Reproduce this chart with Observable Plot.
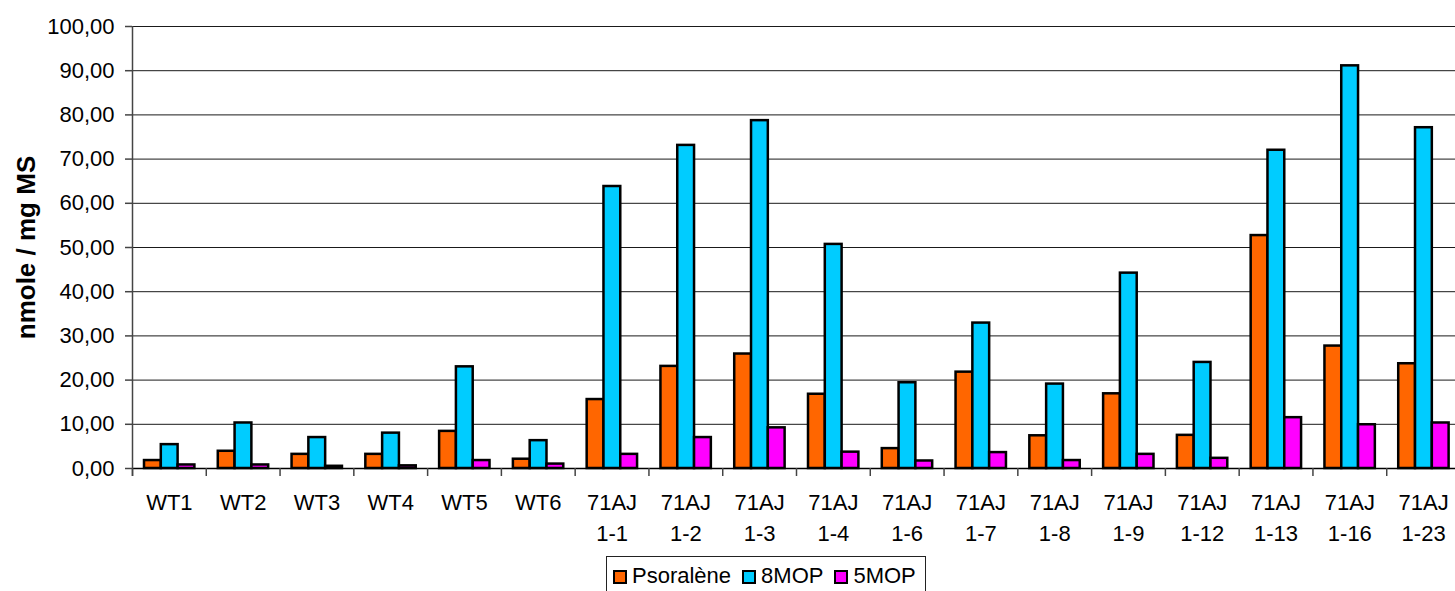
<!DOCTYPE html>
<html>
<head>
<meta charset="utf-8">
<script src="https://cdn.jsdelivr.net/npm/d3@7"></script>
<script src="https://cdn.jsdelivr.net/npm/@observablehq/plot@0.6"></script>
<style>
  html, body { margin: 0; padding: 0; background: #fff; }
  body { font-family: "Liberation Sans", Arial, sans-serif; }
  #wrap { position: relative; width: 1455px; height: 591px; overflow: hidden; }
  #legend {
    position: absolute; left: 606px; top: 556px; width: 320px; height: 46px;
    border: 1px solid #222; box-sizing: border-box;
    display: flex; align-items: flex-start; padding: 8px 0 0 6px;
    font-size: 22px; line-height: 22px; color: #000;
  }
  .item { display: flex; align-items: center; margin-right: 11px; }
  .sw { width: 10px; height: 10px; border: 2.5px solid #000; margin-right: 5px; margin-top: 2px; }
</style>
</head>
<body>
<div id="wrap">
  <div id="chart"></div>
  <div id="legend"></div>
</div>
<script>
// ---- data ----
const categories = ["WT1", "WT2", "WT3", "WT4", "WT5", "WT6",
  "71AJ\n1-1", "71AJ\n1-2", "71AJ\n1-3", "71AJ\n1-4", "71AJ\n1-6", "71AJ\n1-7",
  "71AJ\n1-8", "71AJ\n1-9", "71AJ\n1-12", "71AJ\n1-13", "71AJ\n1-16", "71AJ\n1-23"];
const psoralene = [1.8, 3.9, 3.2, 3.2, 8.4, 2.1, 15.6, 23.1, 25.9, 16.8, 4.5, 21.8, 7.4, 16.9, 7.5, 52.7, 27.7, 23.7];
const mop8      = [5.4, 10.3, 7.0, 8.0, 23.0, 6.3, 63.8, 73.1, 78.7, 50.7, 19.4, 32.9, 19.1, 44.2, 24.0, 72.0, 91.1, 77.1];
const mop5      = [0.8, 0.8, 0.5, 0.6, 1.8, 1.0, 3.2, 7.0, 9.2, 3.7, 1.7, 3.6, 1.8, 3.2, 2.3, 11.5, 9.9, 10.3];
const seriesNames = ["Psoralène", "8MOP", "5MOP"];
const seriesColors = ["#FF6600", "#00CCFF", "#FF00FF"];
const yTicks = [0, 10, 20, 30, 40, 50, 60, 70, 80, 90, 100];
const yTitle = "nmole / mg MS";

// ---- layout ----
const W = 1455, H = 553;
const xRange = [132, 1460];
const bw = (xRange[1] - xRange[0]) / categories.length;
const barW = 16.8, offset0 = 12.0;

const seriesValues = [psoralene, mop8, mop5];
const rows = [];
seriesValues.forEach((vals, si) => vals.forEach((v, ci) => rows.push({cat: categories[ci], series: seriesNames[si], si, value: v})));

const barMarks = seriesNames.map((name, si) =>
  Plot.barY(rows.filter(r => r.si === si), {
    x: "cat", y: "value", fill: seriesColors[si], stroke: "#000", strokeWidth: 2.5,
    insetLeft: offset0 + si * barW,
    insetRight: bw - (offset0 + (si + 1) * barW)
  })
);

const chart = Plot.plot({
  width: W, height: H,
  marginLeft: 132, marginRight: 0, marginTop: 26, marginBottom: 85,
  style: { fontFamily: "'Liberation Sans', Arial, sans-serif", fontSize: "22px", color: "#000", background: "#fff" },
  x: { domain: categories, range: xRange, padding: 0, round: false, axis: null },
  y: { domain: [0, 100], axis: null },
  marks: [
    Plot.ruleY(yTicks, { stroke: "#1a1a1a", strokeWidth: 1 }),
    ...barMarks,
    Plot.ruleY([0], { stroke: "#000", strokeWidth: 1.5 }),
    Plot.ruleX(categories, { x: d => d, dx: -bw / 2, y1: 0, y2: 0, insetBottom: -8, stroke: "#444", strokeWidth: 1.5 }),
    Plot.ruleX([categories[0]], { x: d => d, dx: -bw / 2, y1: 100, y2: 0, insetBottom: -8, stroke: "#444", strokeWidth: 1.5 }),
    Plot.axisY({ ticks: yTicks, tickSize: 7, tickPadding: 11, tickFormat: d => d.toFixed(2).replace(".", ","), label: null, stroke: "#444", strokeWidth: 1.5 }),
    Plot.axisX({ tickSize: 0, tickPadding: 19, lineHeight: 1.42, label: null }),
    Plot.text([yTitle], { frameAnchor: "left", textAnchor: "middle", dx: -106, rotate: -90, fontWeight: "bold", fontSize: 26, fill: "#000" })
  ]
});
document.getElementById("chart").appendChild(chart);

// ---- legend ----
const legend = document.getElementById("legend");
seriesNames.forEach((name, i) => {
  const it = document.createElement("div");
  it.className = "item";
  const sw = document.createElement("span");
  sw.className = "sw";
  sw.style.background = seriesColors[i];
  const t = document.createElement("span");
  t.textContent = name;
  it.appendChild(sw); it.appendChild(t);
  legend.appendChild(it);
});
</script>
</body>
</html>
